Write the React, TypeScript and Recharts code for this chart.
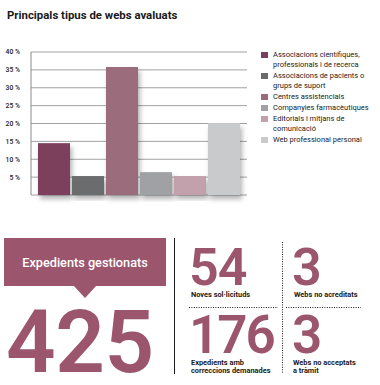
import { Bar, BarChart, CartesianGrid, Cell, Legend, XAxis, YAxis } from 'recharts';

const categories = [
  'Associacions científiques,\nprofessionals i de recerca',
  'Associacions de pacients o\ngrups de suport',
  'Centres assistencials',
  'Companyies farmacèutiques',
  'Editorials i mitjans de\ncomunicació',
  'Web professional personal',
];
const shares = [14.5, 5.3, 35.8, 6.4, 5.3, 20.1];
const barColors = ['#7b3f5c', '#6b6c6e', '#9a6c7b', '#a0a1a4', '#c2a0ac', '#c9cacc'];
const yTicks = [5, 10, 15, 20, 25, 30, 35, 40];

const totalFiles = 425;
const newRequests = 54;
const notAccredited = 3;
const withCorrections = 176;
const notAccepted = 3;

const ACCENT = '#9b566d';
const FONT = 'Roboto, "Liberation Sans", sans-serif';

const rows = categories.map((name, i) => ({ name, value: shares[i], color: barColors[i] }));

function ShadowBar(props: any) {
  const { x, y, width, height, fill } = props;
  if (!height || height <= 0) return null;
  return <rect x={x} y={y} width={width} height={height} fill={fill} filter="url(#barShadow)" />;
}

function LegendBox() {
  return (
    <div style={{ fontFamily: FONT, fontSize: 7.5, color: '#222', lineHeight: '10px' }}>
      {rows.map((r) => (
        <div key={r.name} style={{ display: 'flex', alignItems: 'flex-start', marginBottom: 1 }}>
          <span
            style={{
              display: 'inline-block',
              width: 7,
              height: 6,
              background: r.color,
              marginTop: 2,
              marginRight: 5,
              flexShrink: 0,
            }}
          />
          <span style={{ whiteSpace: 'pre-line' }}>{r.name}</span>
        </div>
      ))}
    </div>
  );
}

export default function App() {
  const small = { fontFamily: FONT, fontSize: 7.4, fontWeight: 700, fill: '#1a1a1a' } as const;
  const big = { fontFamily: FONT, fontWeight: 600, fill: ACCENT } as const;
  return (
    <div style={{ position: 'absolute', left: 0, top: 0, width: 380, height: 385, background: '#fff' }}>
      <BarChart
        width={380}
        height={210}
        data={rows}
        margin={{ top: 52, right: 133, left: 0, bottom: 15 }}
        barCategoryGap={1}
      >
        <defs>
          <filter id="barShadow" x="-20%" y="-10%" width="150%" height="140%">
            <feDropShadow dx="2" dy="4" stdDeviation="2.5" floodColor="#000" floodOpacity="0.3" />
          </filter>
        </defs>
        <CartesianGrid vertical={false} stroke="#8a8a8a" strokeWidth={0.8} />
        <XAxis
          dataKey="name"
          tick={false}
          tickLine={false}
          height={0}
          padding={{ left: 6, right: 6 }}
          axisLine={{ stroke: '#8a8a8a', strokeWidth: 1 }}
        />
        <YAxis
          width={31}
          domain={[0, 40]}
          ticks={yTicks}
          interval={0}
          tickLine={false}
          axisLine={{ stroke: '#8a8a8a', strokeWidth: 1 }}
          tickMargin={5}
          tickFormatter={(v) => `${v}\u00a0%`}
          tick={{ fontFamily: FONT, fontSize: 6.8, fontWeight: 500, fill: '#222' }}
        />
        <Legend
          layout="vertical"
          align="center"
          verticalAlign="middle"
          content={() => <LegendBox />}
          wrapperStyle={{ left: 261, top: 50, width: 119 }}
        />
        <Bar dataKey="value" isAnimationActive={false} shape={ShadowBar}>
          {rows.map((r) => (
            <Cell key={r.name} fill={r.color} />
          ))}
        </Bar>
      </BarChart>

      <svg width={380} height={385} style={{ position: 'absolute', left: 0, top: 0, pointerEvents: 'none' }}>
        <text x={7} y={18.7} style={{ fontFamily: FONT, fontSize: 11.4, fontWeight: 700, fill: '#1a1a1a' }}>
          Principals tipus de webs avaluats
        </text>

        <rect x={4} y={238} width={162} height={48} fill={ACCENT} />
        <polygon points="73,285 97,285 85,298" fill={ACCENT} />
        <text x={85} y={267} textAnchor="middle" style={{ fontFamily: FONT, fontSize: 12.7, fontWeight: 500, fill: '#fff' }}>
          Expedients gestionats
        </text>
        <text x={6} y={372} style={{ ...big, fontSize: 87, letterSpacing: -0.5 }}>
          {totalFiles}
        </text>

        <line x1={174.5} y1={238} x2={174.5} y2={374} stroke="#1a1a1a" strokeWidth={1} />
        <line x1={282.5} y1={242} x2={282.5} y2={374} stroke="#1a1a1a" strokeWidth={1} strokeDasharray="1 1.4" />
        <line x1={189} y1={307.5} x2={278} y2={307.5} stroke="#1a1a1a" strokeWidth={1} strokeDasharray="1 1.4" />
        <line x1={286} y1={307.5} x2={361} y2={307.5} stroke="#1a1a1a" strokeWidth={1} strokeDasharray="1 1.4" />

        <text x={189} y={285} style={{ ...big, fontSize: 52, letterSpacing: -1 }}>{newRequests}</text>
        <text x={292} y={285} style={{ ...big, fontSize: 52 }}>{notAccredited}</text>
        <text x={189} y={353} style={{ ...big, fontSize: 53, letterSpacing: -2 }}>{withCorrections}</text>
        <text x={292} y={353} style={{ ...big, fontSize: 53 }}>{notAccepted}</text>

        <text x={191} y={297} style={small}>Noves sol·licituds</text>
        <text x={294} y={297} style={small}>Webs no acreditats</text>
        <text x={191} y={365} style={small}>Expedients amb</text>
        <text x={191} y={373} style={small}>correccions demanades</text>
        <text x={293} y={365} style={small}>Webs no acceptats</text>
        <text x={293} y={373} style={small}>a tràmit</text>
      </svg>
    </div>
  );
}
